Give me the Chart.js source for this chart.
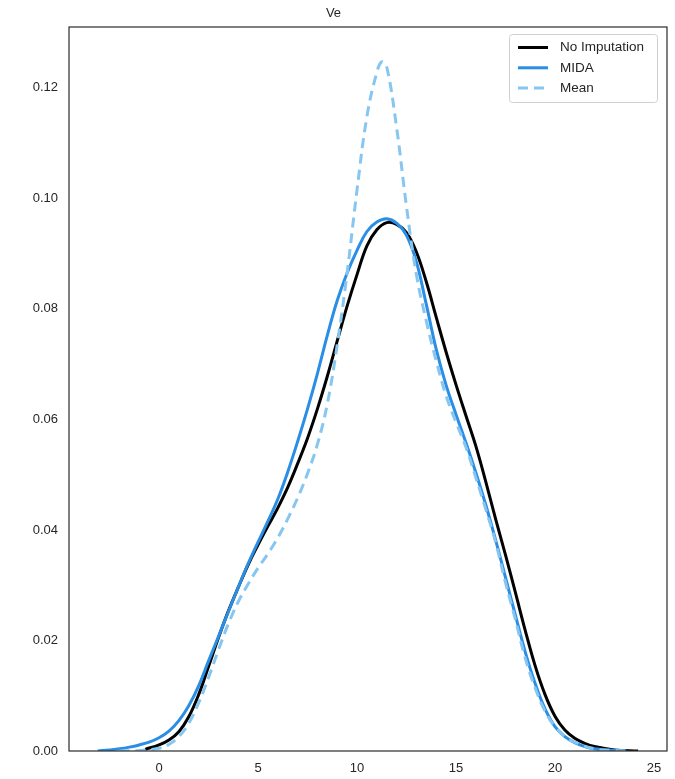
<!DOCTYPE html>
<html>
<head>
<meta charset="utf-8">
<script src="https://cdn.jsdelivr.net/npm/chart.js@4.4.1/dist/chart.umd.min.js"></script>
<style>
  html, body { margin: 0; padding: 0; background: #fff; }
  #wrap { width: 675px; height: 779px; }
</style>
</head>
<body>
<div id="wrap"><canvas id="kde"></canvas></div>
<script>
const xTicks = [0, 5, 10, 15, 20, 25];
const yTicks = [0, 0.02, 0.04, 0.06, 0.08, 0.10, 0.12];

// No Imputation
const noImpX = [-0.7, 0, 0.5, 1, 1.5, 2, 2.5, 3, 3.5, 4, 4.5, 5, 5.5, 6, 6.5, 7, 7.5, 8, 8.5, 9, 9.5, 10, 10.5, 11, 11.5, 12, 12.5, 13, 13.5, 14, 14.5, 15, 15.5, 16, 16.5, 17, 17.5, 18, 18.5, 19, 19.5, 20, 20.5, 21, 21.5, 22, 23, 24.2];
const noImpY = [0.0003, 0.0011, 0.002, 0.0035, 0.0062, 0.0102, 0.0153, 0.0205, 0.0253, 0.0296, 0.0337, 0.0373, 0.0407, 0.044, 0.0477, 0.052, 0.0566, 0.0619, 0.0678, 0.0742, 0.0805, 0.0862, 0.0914, 0.0943, 0.0956, 0.0953, 0.0938, 0.0903, 0.0849, 0.0785, 0.0722, 0.0663, 0.0607, 0.0552, 0.0488, 0.042, 0.0355, 0.0287, 0.0218, 0.0154, 0.0102, 0.0063, 0.0038, 0.0023, 0.0014, 0.0008, 0.0002, 0];

// MIDA
const midaX = [-3.1, -2.5, -2, -1.5, -1, -0.5, 0, 0.5, 1, 1.5, 2, 2.5, 3, 3.5, 4, 4.5, 5, 5.5, 6, 6.5, 7, 7.5, 8, 8.5, 9, 9.5, 10, 10.5, 11, 11.5, 12, 12.5, 13, 13.5, 14, 14.5, 15, 15.5, 16, 16.5, 17, 17.5, 18, 18.5, 19, 19.5, 20, 20.5, 21, 21.5, 22, 23, 23.6];
const midaY = [0, 0.0002, 0.0004, 0.0007, 0.0011, 0.0016, 0.0024, 0.0036, 0.0055, 0.0082, 0.0118, 0.0163, 0.0207, 0.0252, 0.0296, 0.0339, 0.0378, 0.0416, 0.0456, 0.0505, 0.056, 0.0619, 0.0683, 0.0752, 0.0815, 0.0865, 0.0906, 0.094, 0.0957, 0.0963, 0.0955, 0.0933, 0.0885, 0.0808, 0.0727, 0.0662, 0.0609, 0.0558, 0.0504, 0.0446, 0.0382, 0.0314, 0.0246, 0.0179, 0.0122, 0.0076, 0.0044, 0.0026, 0.0015, 0.0008, 0.0004, 0.0001, 0];

// Mean
const meanX = [-2, -1, 0, 0.5, 1, 1.5, 2, 2.5, 3, 3.5, 4, 4.5, 5, 5.5, 6, 6.5, 7, 7.5, 8, 8.5, 9, 9.5, 10, 10.5, 11, 11.25, 11.5, 12, 12.5, 13, 13.5, 14, 14.5, 15, 15.5, 16, 16.5, 17, 17.5, 18, 18.5, 19, 19.5, 20, 20.5, 21, 22, 23, 23.6];
const meanY = [0, 0.0001, 0.0005, 0.0012, 0.0026, 0.005, 0.0087, 0.0133, 0.0183, 0.023, 0.027, 0.0302, 0.0331, 0.0357, 0.0386, 0.042, 0.0458, 0.0502, 0.0555, 0.0628, 0.0735, 0.0865, 0.1015, 0.1148, 0.1228, 0.1247, 0.1238, 0.1128, 0.0985, 0.0862, 0.0778, 0.0706, 0.0643, 0.0595, 0.055, 0.0495, 0.0438, 0.0378, 0.0305, 0.0238, 0.0168, 0.0114, 0.0072, 0.0044, 0.0027, 0.0016, 0.0004, 0.0001, 0];

const textColor = '#262626';
const fontFamily = '"Liberation Sans", Arial, sans-serif';

function toPoints(xs, ys) {
    return xs.map((x, i) => ({ x: x, y: ys[i] }));
}

// axes frame, seaborn "white" style
const framePlugin = {
    id: 'frame',
    afterDatasetsDraw(chart) {
        const a = chart.chartArea;
        const ctx = chart.ctx;
        ctx.save();
        ctx.strokeStyle = '#333333';
        ctx.lineWidth = 1.25;
        ctx.strokeRect(a.left, a.top, a.right - a.left, a.bottom - a.top);
        ctx.restore();
    }
};

// matplotlib-like legend in the upper right corner
const boxLegend = {
    id: 'boxLegend',
    afterDraw(chart) {
        const a = chart.chartArea;
        const ctx = chart.ctx;
        const w = 148, h = 68;
        const x0 = a.right - 10 - w, y0 = a.top + 7;
        ctx.save();
        ctx.fillStyle = 'rgba(255,255,255,0.8)';
        ctx.strokeStyle = '#d0d0d0';
        ctx.lineWidth = 1;
        ctx.beginPath();
        ctx.roundRect(x0 + 0.5, y0 + 0.5, w, h, 3);
        ctx.fill();
        ctx.stroke();
        ctx.font = '13.5px ' + fontFamily;
        ctx.textBaseline = 'middle';
        chart.data.datasets.forEach((ds, i) => {
            const y = y0 + 13.5 + i * 20.3;
            ctx.strokeStyle = ds.borderColor;
            ctx.lineWidth = ds.borderWidth;
            ctx.setLineDash(ds.borderDash || []);
            ctx.beginPath();
            ctx.moveTo(x0 + 9, y);
            ctx.lineTo(x0 + 39, y);
            ctx.stroke();
            ctx.setLineDash([]);
            ctx.fillStyle = textColor;
            ctx.fillText(ds.label, x0 + 51, y);
        });
        ctx.restore();
    }
};

new Chart(document.getElementById('kde'), {
    type: 'line',
    data: {
        datasets: [
            {
                label: 'No Imputation',
                data: toPoints(noImpX, noImpY),
                borderColor: '#000000',
                borderWidth: 3,
                order: 3
            },
            {
                label: 'MIDA',
                data: toPoints(midaX, midaY),
                borderColor: '#2b8ee5',
                borderWidth: 3,
                order: 2
            },
            {
                label: 'Mean',
                data: toPoints(meanX, meanY),
                borderColor: '#86c6f1',
                borderWidth: 3,
                borderDash: [10, 6],
                order: 1
            }
        ]
    },
    options: {
        responsive: true,
        maintainAspectRatio: false,
        animation: false,
        layout: { padding: { right: 8, left: 0, top: 0, bottom: 0 } },
        elements: {
            point: { radius: 0 },
            line: { tension: 0.4, borderCapStyle: 'butt' }
        },
        plugins: {
            legend: { display: false },
            tooltip: { enabled: false },
            title: {
                display: true,
                text: 'Ve',
                color: textColor,
                font: { family: fontFamily, size: 13, weight: 'normal' },
                padding: { top: 6, bottom: 5.4 }
            }
        },
        scales: {
            x: {
                type: 'linear',
                min: -4.55,
                max: 25.66,
                grid: { display: false, drawTicks: false },
                border: { display: false },
                ticks: {
                    color: textColor,
                    padding: 10,
                    font: { family: fontFamily, size: 13 },
                    callback: v => String(v)
                },
                afterBuildTicks: s => { s.ticks = xTicks.map(v => ({ value: v })); },
                afterFit: s => { s.height = 28; }
            },
            y: {
                type: 'linear',
                min: 0,
                max: 0.131,
                grid: { display: false, drawTicks: false },
                border: { display: false },
                ticks: {
                    color: textColor,
                    padding: 11,
                    font: { family: fontFamily, size: 13 },
                    callback: v => v.toFixed(2)
                },
                afterBuildTicks: s => { s.ticks = yTicks.map(v => ({ value: v })); },
                afterFit: s => { s.width = 69; }
            }
        }
    },
    plugins: [framePlugin, boxLegend]
});
</script>
</body>
</html>
